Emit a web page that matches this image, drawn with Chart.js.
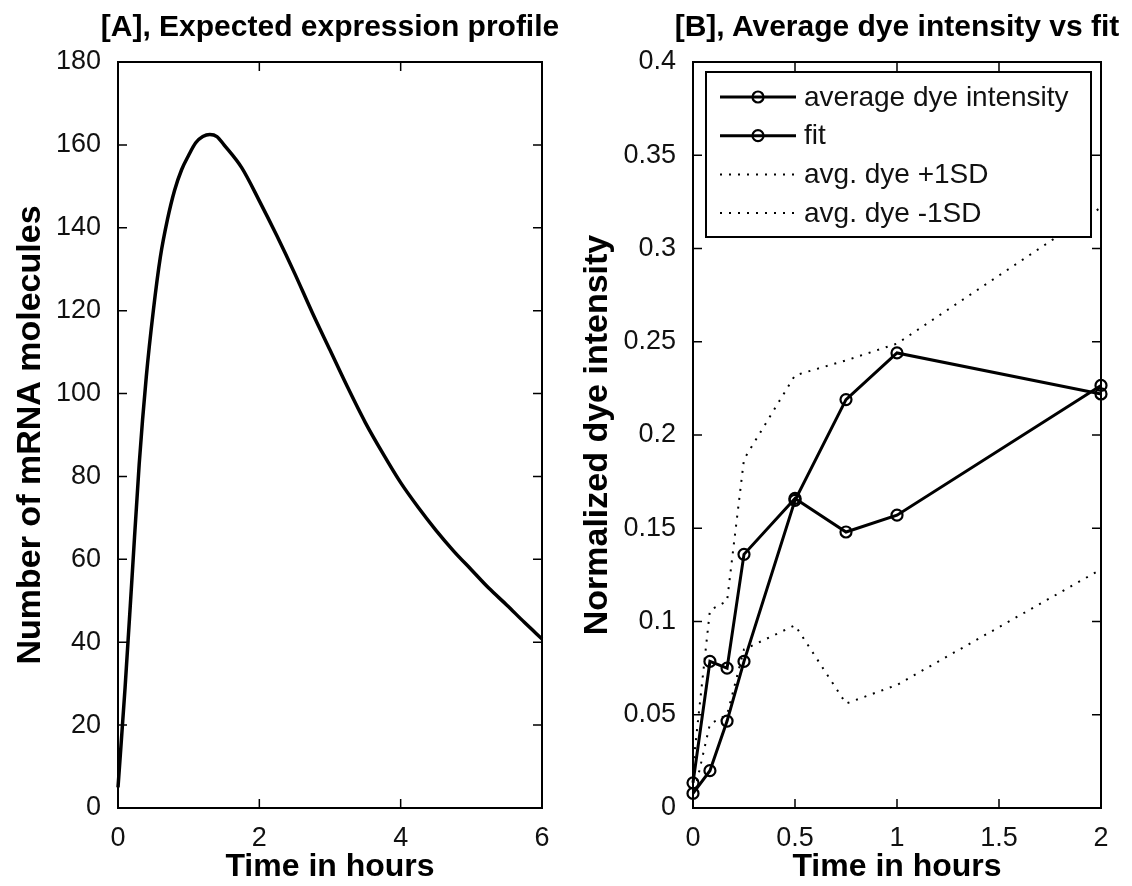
<!DOCTYPE html>
<html lang="en">
<head>
<meta charset="UTF-8">
<title>Expected expression profile / average dye intensity vs fit</title>
<script src="https://cdn.jsdelivr.net/npm/chart.js"></script>
<style>
  body { margin: 0; background: #fff; }
  #wrap { position: relative; width: 1132px; height: 886px; overflow: hidden; }
  canvas { position: absolute; top: 0; }
  #chartA { left: 0; }
  #chartB { left: 566px; }
  .ttl { position: absolute; top: 11px; font: bold 30px "Liberation Sans", Arial, sans-serif;
         line-height: 30px; white-space: nowrap; transform: translateX(-50%); color: #000; }
</style>
</head>
<body>
<div id="wrap">
  <canvas id="chartA" width="566" height="886"></canvas>
  <canvas id="chartB" width="566" height="886"></canvas>
  <div class="ttl" style="left:330px">[A], Expected expression profile</div>
  <div class="ttl" style="left:897px">[B], Average dye intensity vs fit</div>
</div>
<script>
// panel A - modelled mRNA count
const timeA = [0, 0.1, 0.2, 0.3, 0.4, 0.5, 0.6, 0.7, 0.8, 0.9, 1.0, 1.1, 1.2, 1.3, 1.4, 1.5,
               1.75, 2.0, 2.25, 2.5, 2.75, 3.0, 3.25, 3.5, 3.75, 4.0, 4.25, 4.5, 4.75, 5.0, 5.25, 5.5, 5.75, 6.0];
const mrna = [5, 29, 56, 83, 104, 120, 133, 142, 149, 154, 157.5, 160.5, 162, 162.5, 162, 160,
              154.5, 146.5, 138, 129, 119.5, 110.5, 101.5, 93, 85.5, 78.5, 72.5, 67, 62, 57.5, 53, 49, 44.8, 40.8];

// panel B - measured dye intensity (hours)
const timeB = [0, 0.083, 0.167, 0.25, 0.5, 0.75, 1, 2];
const avgDye = [0.0135, 0.0786, 0.075, 0.136, 0.166, 0.148, 0.157, 0.2266];
const fitDye = [0.0078, 0.020, 0.0466, 0.0786, 0.165, 0.219, 0.244, 0.222];
const plusSD = [0.022, 0.106, 0.111, 0.187, 0.232, 0.240, 0.249, 0.322];
const minusSD = [0.005, 0.045, 0.05, 0.085, 0.098, 0.056, 0.066, 0.128];

const xTicksA = [0, 2, 4, 6];
const yTicksA = [0, 20, 40, 60, 80, 100, 120, 140, 160, 180];
const xTicksB = [0, 0.5, 1, 1.5, 2];
const yTicksB = [0, 0.05, 0.1, 0.15, 0.2, 0.25, 0.3, 0.35, 0.4];

const family = "'Liberation Sans', Arial, sans-serif";
const tickFont = { family: family, size: 27 };

const pts = (xs, ys) => xs.map((x, i) => ({ x: x, y: ys[i] }));

function xAxis(ticks, label) {
  return {
    type: 'linear', min: ticks[0], max: ticks[ticks.length - 1],
    afterBuildTicks: s => { s.ticks = ticks.map(v => ({ value: v })); },
    afterFit: s => { s.height = 78; },
    grid: { display: false },
    border: { display: false },
    ticks: { padding: 6, color: '#111', font: tickFont, autoSkip: false, maxRotation: 0, callback: v => String(v) },
    title: { display: true, text: label, color: '#000', font: { family: family, size: 32, weight: 'bold' }, padding: { top: 0, bottom: 0 } }
  };
}

function yAxis(ticks, label, width, titlePad) {
  return {
    type: 'linear', min: ticks[0], max: ticks[ticks.length - 1],
    afterBuildTicks: s => { s.ticks = ticks.map(v => ({ value: v })); },
    afterFit: s => { s.width = width; },
    grid: { display: false },
    border: { display: false },
    ticks: { padding: 9, color: '#111', font: tickFont, autoSkip: false, callback: v => String(v) },
    title: { display: true, text: label, color: '#000', font: { family: family, size: 34, weight: 'bold' }, padding: { top: titlePad, bottom: 0 } }
  };
}

// box round the plot with short inward ticks on all four sides
const frame = {
  id: 'frame',
  beforeDatasetsDraw(chart) {
    const { ctx, chartArea: a, scales: { x, y } } = chart;
    ctx.save();
    ctx.strokeStyle = '#000';
    ctx.lineWidth = 2;
    ctx.strokeRect(a.left, a.top, a.right - a.left, a.bottom - a.top);
    ctx.lineWidth = 1.5;
    ctx.beginPath();
    x.ticks.forEach(t => {
      const px = x.getPixelForValue(t.value);
      ctx.moveTo(px, a.bottom); ctx.lineTo(px, a.bottom - 9);
      ctx.moveTo(px, a.top); ctx.lineTo(px, a.top + 9);
    });
    y.ticks.forEach(t => {
      const py = y.getPixelForValue(t.value);
      ctx.moveTo(a.left, py); ctx.lineTo(a.left + 9, py);
      ctx.moveTo(a.right, py); ctx.lineTo(a.right - 9, py);
    });
    ctx.stroke();
    ctx.restore();
  }
};

// matlab style legend box inside the axes
const boxLegend = {
  id: 'boxLegend',
  afterDraw(chart, args, o) {
    if (!o.show) return;
    const { ctx, chartArea: a } = chart;
    const left = a.left + o.dx, top = a.top + o.dy;
    ctx.save();
    ctx.fillStyle = '#fff';
    ctx.fillRect(left, top, o.w, o.h);
    ctx.strokeStyle = '#000';
    ctx.lineWidth = 2;
    ctx.strokeRect(left, top, o.w, o.h);
    ctx.font = '28px ' + family;
    ctx.textBaseline = 'middle';
    chart.data.datasets.forEach((ds, i) => {
      const cy = top + o.first + i * o.gap;
      ctx.beginPath();
      ctx.setLineDash(ds.borderDash || []);
      ctx.lineWidth = ds.borderWidth;
      ctx.strokeStyle = ds.borderColor;
      ctx.moveTo(left + 14, cy);
      ctx.lineTo(left + 90, cy);
      ctx.stroke();
      ctx.setLineDash([]);
      if (ds.pointRadius > 0) {
        ctx.beginPath();
        ctx.lineWidth = ds.pointBorderWidth;
        ctx.arc(left + 52, cy, ds.pointRadius, 0, Math.PI * 2);
        ctx.stroke();
      }
      ctx.fillStyle = '#111';
      ctx.fillText(ds.label, left + 98, cy + 1);
    });
    ctx.restore();
  }
};

new Chart(document.getElementById('chartA'), {
  type: 'line',
  data: {
    datasets: [{
      label: 'mRNA',
      data: pts(timeA, mrna),
      borderColor: '#000',
      borderWidth: 3.5,
      pointRadius: 0,
      tension: 0.4,
      cubicInterpolationMode: 'monotone',
      clip: 6
    }]
  },
  options: {
    responsive: false,
    animation: false,
    devicePixelRatio: 1,
    layout: { padding: { top: 62, right: 24, left: 0, bottom: 0 } },
    plugins: { legend: { display: false }, tooltip: { enabled: false }, boxLegend: { show: false } },
    scales: {
      x: xAxis(xTicksA, 'Time in hours'),
      y: yAxis(yTicksA, 'Number of mRNA molecules', 118, 10)
    }
  },
  plugins: [frame, boxLegend]
});

const marked = {
  borderColor: '#000', borderWidth: 3,
  pointRadius: 5.5, pointBorderWidth: 2.2, pointBorderColor: '#000',
  pointBackgroundColor: 'rgba(0,0,0,0)', tension: 0, clip: 12
};
const dotted = {
  borderColor: '#000', borderWidth: 2, borderDash: [2, 7],
  pointRadius: 0, tension: 0, clip: 6
};

new Chart(document.getElementById('chartB'), {
  type: 'line',
  data: {
    datasets: [
      Object.assign({ label: 'average dye intensity', data: pts(timeB, avgDye) }, marked),
      Object.assign({ label: 'fit', data: pts(timeB, fitDye) }, marked),
      Object.assign({ label: 'avg. dye +1SD', data: pts(timeB, plusSD) }, dotted),
      Object.assign({ label: 'avg. dye -1SD', data: pts(timeB, minusSD) }, dotted)
    ]
  },
  options: {
    responsive: false,
    animation: false,
    devicePixelRatio: 1,
    layout: { padding: { top: 62, right: 31, left: 0, bottom: 0 } },
    plugins: {
      legend: { display: false },
      tooltip: { enabled: false },
      boxLegend: { show: true, dx: 13, dy: 10, w: 385, h: 165, first: 25, gap: 38.7 }
    },
    scales: {
      x: xAxis(xTicksB, 'Time in hours'),
      y: yAxis(yTicksB, 'Normalized dye intensity', 127, 11)
    }
  },
  plugins: [frame, boxLegend]
});
</script>
</body>
</html>
